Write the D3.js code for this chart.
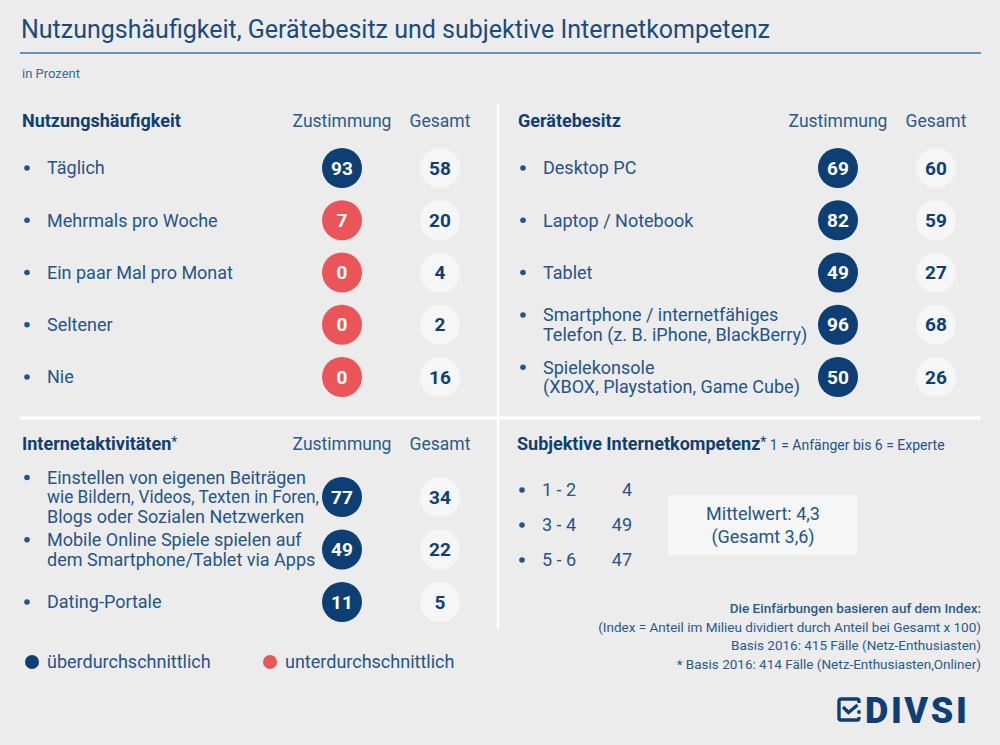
<!DOCTYPE html>
<html>
<head>
<meta charset="utf-8">
<script src="https://cdn.jsdelivr.net/npm/d3@7"></script>
<style>
  html, body { margin: 0; padding: 0; background: #ececec; }
  svg { display: block; font-family: Roboto, "Open Sans", sans-serif; }
  .lbl { fill: #24548a; font-size: 18px; }
  .hdr { fill: #0f3f73; font-size: 18px; font-weight: 700; }
  .col { fill: #2a5a8c; font-size: 17.5px; text-anchor: middle; }
  .num { font-size: 19px; font-weight: 700; text-anchor: middle; dominant-baseline: central; }
  .foot { fill: #2a5a8c; font-size: 13.5px; text-anchor: end; }
</style>
</head>
<body>
<svg id="chart" width="1000" height="745"></svg>
<script>
// Nutzungshäufigkeit
const nutzungLabels = [['Täglich'], ['Mehrmals pro Woche'], ['Ein paar Mal pro Monat'], ['Seltener'], ['Nie']];
const nutzungZust   = [93, 7, 0, 0, 0];
const nutzungGes    = [58, 20, 4, 2, 16];
const nutzungLevel  = ['über', 'unter', 'unter', 'unter', 'unter'];

// Gerätebesitz
const geraetLabels = [['Desktop PC'], ['Laptop / Notebook'], ['Tablet'],
  ['Smartphone / internetfähiges', 'Telefon (z. B. iPhone, BlackBerry)'],
  ['Spielekonsole', '(XBOX, Playstation, Game Cube)']];
const geraetZust  = [69, 82, 49, 96, 50];
const geraetGes   = [60, 59, 27, 68, 26];
const geraetLevel = ['über', 'über', 'über', 'über', 'über'];

// Internetaktivitäten
const aktivLabels = [['Einstellen von eigenen Beiträgen', 'wie Bildern, Videos, Texten in Foren,', 'Blogs oder Sozialen Netzwerken'],
  ['Mobile Online Spiele spielen auf', 'dem Smartphone/Tablet via Apps'], ['Dating-Portale']];
const aktivZust  = [77, 49, 11];
const aktivGes   = [34, 22, 5];
const aktivLevel = ['über', 'über', 'über'];

// Subjektive Internetkompetenz
const kompLabels = ['1 - 2', '3 - 4', '5 - 6'];
const kompValues = [4, 49, 47];

const columns = ['Zustimmung', 'Gesamt'];
const footnotes = [
  'Die Einfärbungen basieren auf dem Index:',
  '(Index  = Anteil im Milieu dividiert durch Anteil bei Gesamt x 100)',
  'Basis 2016: 415 Fälle (Netz-Enthusiasten)',
  '* Basis 2016: 414 Fälle (Netz-Enthusiasten,Onliner)'
];

const BLUE = '#0d3f74', RED = '#ea5559', LIGHT = '#f6f6f6', TXT = '#24548a';
const levelColor = d3.scaleOrdinal().domain(['über', 'unter']).range([BLUE, RED]);

const svg = d3.select('#chart');

// Titel
svg.append('text').attr('x', 21).attr('y', 38)
  .attr('fill', '#1a4b7e').attr('font-size', 25)
  .text('Nutzungshäufigkeit, Gerätebesitz und subjektive Internetkompetenz');
svg.append('line').attr('x1', 20).attr('x2', 981).attr('y1', 53).attr('y2', 53)
  .attr('stroke', '#3a74aa').attr('stroke-width', 1.6);
svg.append('text').attr('x', 22).attr('y', 78).attr('fill', '#3a6a9a').attr('font-size', 13)
  .text('in Prozent');

// Trennlinien
svg.append('line').attr('x1', 498).attr('x2', 498).attr('y1', 103).attr('y2', 629)
  .attr('stroke', '#fff').attr('stroke-width', 2);
svg.append('line').attr('x1', 20).attr('x2', 981).attr('y1', 418).attr('y2', 418)
  .attr('stroke', '#fff').attr('stroke-width', 3);

function panel(opts) {
  const g = svg.append('g').attr('transform', `translate(${opts.x},0)`);
  const n = opts.labels.length;
  const y = d3.scalePoint().domain(d3.range(n)).range(opts.yRange);
  const cx = d3.scalePoint().domain(columns).range([320, 418]);

  const head = g.append('text').attr('class', 'hdr').attr('x', 0).attr('y', opts.headY).text(opts.title);
  if (opts.star) head.append('tspan').attr('font-weight', 400).attr('font-size', 14).attr('dy', -3).text('*');
  columns.forEach(c => g.append('text').attr('class', 'col').attr('x', cx(c)).attr('y', opts.headY).text(c));

  const rows = g.selectAll('.row').data(d3.range(n)).enter().append('g').attr('class', 'row');
  const lh = 19.5;
  const maxW = 272;
  rows.each(function(i) {
    const r = d3.select(this);
    const lines = opts.labels[i];
    const top = y(i) - (lines.length - 1) * lh / 2;
    r.append('circle').attr('cx', 5).attr('cy', top).attr('r', 2.8).attr('fill', TXT);
    lines.forEach((l, k) => {
      const t = r.append('text').attr('class', 'lbl').attr('x', 25)
        .attr('y', top + k * lh).attr('dy', '0.35em').text(l);
      if (t.node().getComputedTextLength() > maxW)
        t.attr('textLength', maxW).attr('lengthAdjust', 'spacingAndGlyphs');
    });
    r.append('circle').attr('cx', cx('Zustimmung')).attr('cy', y(i)).attr('r', 20)
      .attr('fill', levelColor(opts.level[i]));
    r.append('text').attr('class', 'num').attr('x', cx('Zustimmung')).attr('y', y(i))
      .attr('fill', '#fff').text(opts.zust[i]);
    r.append('circle').attr('cx', cx('Gesamt')).attr('cy', y(i)).attr('r', 20).attr('fill', LIGHT);
    r.append('text').attr('class', 'num').attr('x', cx('Gesamt')).attr('y', y(i))
      .attr('fill', BLUE).text(opts.ges[i]);
  });
}

panel({ x: 22, title: 'Nutzungshäufigkeit', headY: 127, yRange: [168, 377],
  labels: nutzungLabels, zust: nutzungZust, ges: nutzungGes, level: nutzungLevel });
panel({ x: 518, title: 'Gerätebesitz', headY: 127, yRange: [168, 377],
  labels: geraetLabels, zust: geraetZust, ges: geraetGes, level: geraetLevel });
panel({ x: 22, title: 'Internetaktivitäten', star: true, headY: 450, yRange: [497, 602],
  labels: aktivLabels, zust: aktivZust, ges: aktivGes, level: aktivLevel });

// Subjektive Internetkompetenz
const kh = svg.append('text').attr('class', 'hdr').attr('x', 517).attr('y', 450).text('Subjektive Internetkompetenz');
kh.append('tspan').attr('font-weight', 400).attr('font-size', 14).attr('dy', -3).text('*');
kh.append('tspan').attr('font-weight', 400).attr('font-size', 14).attr('fill', TXT).attr('dy', 3)
  .text(' 1 = Anfänger bis 6 = Experte');

const ky = d3.scalePoint().domain(kompLabels).range([490, 560]);
const kg = svg.append('g').selectAll('g').data(kompLabels).enter().append('g');
kg.append('circle').attr('cx', 522).attr('cy', d => ky(d)).attr('r', 2.8).attr('fill', TXT);
kg.append('text').attr('class', 'lbl').attr('x', 542).attr('y', d => ky(d)).attr('dy', '0.35em').text(d => d);
kg.append('text').attr('class', 'lbl').attr('x', 632).attr('y', d => ky(d)).attr('dy', '0.35em')
  .attr('text-anchor', 'end').text((d, i) => kompValues[i]);

svg.append('rect').attr('x', 668).attr('y', 495).attr('width', 189).attr('height', 60).attr('fill', '#f6f6f6');
svg.append('text').attr('class', 'lbl').attr('x', 763).attr('y', 514).attr('dy', '0.35em')
  .attr('text-anchor', 'middle').text('Mittelwert: 4,3');
svg.append('text').attr('class', 'lbl').attr('x', 763).attr('y', 537).attr('dy', '0.35em')
  .attr('text-anchor', 'middle').text('(Gesamt 3,6)');

// Legende
const legend = [{ key: 'über', label: 'überdurchschnittlich', x: 32 }, { key: 'unter', label: 'unterdurchschnittlich', x: 270 }];
const lg = svg.append('g').selectAll('g').data(legend).enter().append('g');
lg.append('circle').attr('cx', d => d.x).attr('cy', 662).attr('r', 7).attr('fill', d => levelColor(d.key));
lg.append('text').attr('class', 'lbl').attr('x', d => d.x + 15).attr('y', 662).attr('dy', '0.35em').text(d => d.label);

// Fußnoten
svg.append('g').selectAll('text').data(footnotes).enter().append('text')
  .attr('class', 'foot').attr('x', 981).attr('y', (d, i) => 613 + i * 18.7)
  .attr('font-weight', (d, i) => i === 0 ? 500 : 400)
  .attr('fill', (d, i) => i === 0 ? '#1a4b7e' : '#2a5a8c')
  .text(d => d);

// DIVSI Logo
const logo = svg.append('g').attr('transform', 'translate(837,697)');
logo.append('path')
  .attr('d', 'M22,6 V4 Q22,2 20,2 H4 Q2,2 2,4 V21 Q2,23 4,23 H20 Q22,23 22,21 V20')
  .attr('fill', 'none').attr('stroke', BLUE).attr('stroke-width', 3.4);
logo.append('path').attr('d', 'M6,10 L11.5,15.5 L20.5,8').attr('fill', 'none').attr('stroke', BLUE).attr('stroke-width', 3.2);
logo.append('circle').attr('cx', 22).attr('cy', 15).attr('r', 1.9).attr('fill', BLUE);
logo.append('text').attr('x', 28).attr('y', 25.5).attr('fill', BLUE).attr('font-size', 36)
  .attr('font-weight', 900).attr('letter-spacing', 2.6).text('DIVSI');
</script>
</body>
</html>
